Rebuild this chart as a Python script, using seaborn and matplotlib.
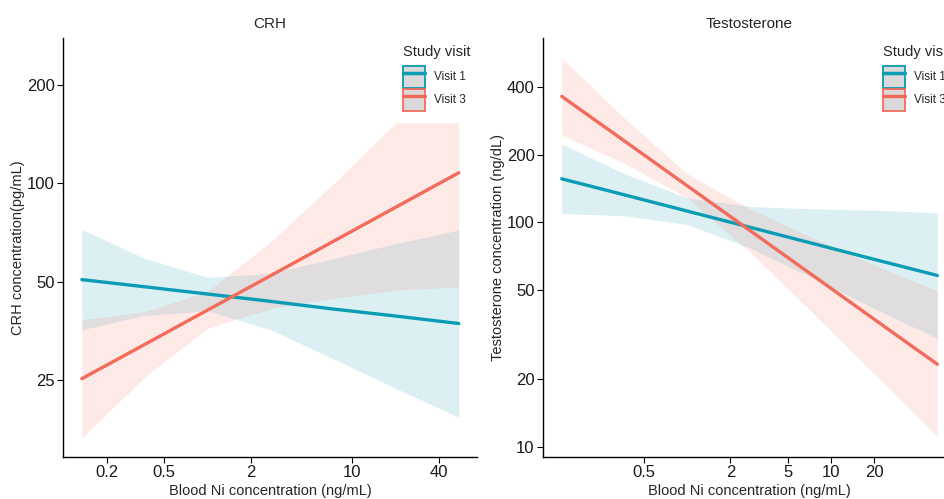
import numpy as np
import pandas as pd
import seaborn as sns
import matplotlib
matplotlib.use("Agg")
import matplotlib.pyplot as plt
from matplotlib.patches import Patch
from matplotlib.lines import Line2D

# predicted values at blood Ni = e^-2 ... e^4 (ng/mL)
ni = [0.135, 0.368, 1.0, 2.72, 7.39, 20.1, 54.6]

# CRH panel
crh_v1_fit = [50.7, 48.2, 45.8, 43.5, 41.2, 39.2, 37.2]
crh_v1_lo = [35.6, 39.4, 40.7, 35.6, 29.0, 23.5, 19.2]
crh_v1_hi = [72.3, 58.9, 51.5, 53.0, 58.8, 65.4, 71.9]
crh_v3_fit = [25.2, 32.1, 40.9, 52.1, 66.4, 84.6, 107.8]
crh_v3_lo = [16.6, 25.5, 36.0, 41.3, 44.4, 47.1, 48.2]
crh_v3_hi = [38.2, 40.4, 46.6, 66.1, 99.5, 153.5, 153.5]

# Testosterone panel
tes_v1_fit = [156.0, 132.3, 112.1, 95.0, 80.5, 68.2, 57.9]
tes_v1_lo = [109.3, 106.7, 97.7, 76.8, 56.6, 41.1, 30.4]
tes_v1_hi = [222.7, 164.2, 128.5, 117.4, 114.7, 113.2, 110.1]
tes_v3_fit = [363.2, 229.8, 145.4, 92.0, 58.2, 36.8, 23.3]
tes_v3_lo = [245.1, 182.6, 128.5, 73.7, 39.7, 21.0, 11.1]
tes_v3_hi = [538.3, 289.8, 164.4, 114.8, 85.3, 64.4, 49.4]

visits = ["Visit 1", "Visit 3"]
colors = {"Visit 1": "#0A9BB5", "Visit 3": "#F26B5B"}

sns.set_theme(style="white")
plt.rcParams["font.family"] = ["Liberation Sans", "DejaVu Sans"]


def make_df(fit1, lo1, hi1, fit3, lo3, hi3):
    d1 = pd.DataFrame({"ni": ni, "fit": fit1, "lo": lo1, "hi": hi1, "visit": "Visit 1"})
    d3 = pd.DataFrame({"ni": ni, "fit": fit3, "lo": lo3, "hi": hi3, "visit": "Visit 3"})
    return pd.concat([d1, d3], ignore_index=True)


crh = make_df(crh_v1_fit, crh_v1_lo, crh_v1_hi, crh_v3_fit, crh_v3_lo, crh_v3_hi)
tes = make_df(tes_v1_fit, tes_v1_lo, tes_v1_hi, tes_v3_fit, tes_v3_lo, tes_v3_hi)

fig = plt.figure(figsize=(9.45, 4.99), dpi=100)
ax1 = fig.add_axes([63 / 945, 42 / 499, 414 / 945, 419 / 499])
ax2 = fig.add_axes([543 / 945, 42 / 499, 413 / 945, 419 / 499])


def panel(ax, df, title, ylabel, xticks, yticks, xlim, ylim):
    for v in visits:
        sub = df[df["visit"] == v]
        ax.fill_between(sub["ni"], sub["lo"], sub["hi"], color=colors[v], alpha=0.14, lw=0)
    sns.lineplot(data=df, x="ni", y="fit", hue="visit", palette=colors, lw=2.4,
                 legend=False, ax=ax)
    ax.set_xscale("log")
    ax.set_yscale("log")
    ax.set_xlim(*xlim)
    ax.set_ylim(*ylim)
    ax.set_xticks(xticks)
    ax.set_xticklabels([f"{t:g}" for t in xticks])
    ax.set_yticks(yticks)
    ax.set_yticklabels([f"{t:g}" for t in yticks])
    ax.minorticks_off()
    ax.tick_params(axis="both", labelsize=12, length=4, width=0.8, pad=2,
                   colors="black", labelcolor="#1a1a1a", bottom=True, left=True)
    for s in ["top", "right"]:
        ax.spines[s].set_visible(False)
    for s in ["left", "bottom"]:
        ax.spines[s].set_color("black")
        ax.spines[s].set_linewidth(1.0)
    ax.set_xlabel("Blood Ni concentration (ng/mL)", fontsize=10.5, labelpad=3)
    ax.set_ylabel(ylabel, fontsize=10.5, labelpad=1)
    ax.set_title(title, fontsize=11, pad=7)
    ax.grid(False)


panel(ax1, crh, "CRH", "CRH concentration(pg/mL)", [0.2, 0.5, 2, 10, 40],
      [25, 50, 100, 200], (0.1, 73), (14.5, 279))
panel(ax2, tes, "Testosterone", "Testosterone concentration (ng/dL)", [0.5, 2, 5, 10, 20],
      [10, 20, 50, 100, 200, 400], (0.1, 73.6), (9.0, 661))

for ax, x0 in [(ax1, 403), (ax2, 883)]:
    handles = [(Patch(facecolor="#d9d9d9", edgecolor=colors[v], lw=1.3),
                Line2D([], [], color=colors[v], lw=2.5)) for v in visits]
    leg = ax.legend(handles, visits, title="Study visit", loc="upper left",
                    bbox_to_anchor=(x0 / 945, 1 - 45 / 499), bbox_transform=fig.transFigure,
                    frameon=False, fontsize=8.5, title_fontsize=10.5, handlelength=1.9,
                    handleheight=2.45, labelspacing=0.1, handletextpad=0.7,
                    borderpad=0, borderaxespad=0, alignment="left")
    leg._legend_box.sep = 5

fig.savefig("out.png", dpi=100)
